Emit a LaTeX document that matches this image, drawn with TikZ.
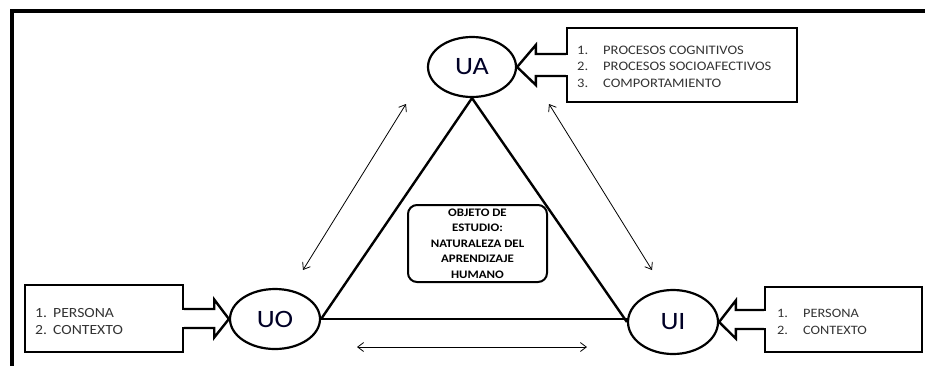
\documentclass[tikz,border=0pt]{standalone}
\usepackage{fontspec}
\setmainfont{Carlito}[FakeStretch=1.12]
\usetikzlibrary{arrows.meta,calc,shapes.geometric}
\tikzset{
  ell/.style={draw, ellipse, line width=2.2pt, inner sep=0pt, font=\fontsize{25}{30}\selectfont, text=black!85!blue},
  infobox/.style={draw, line width=2.4pt, inner sep=0pt},
  blk/.style={line width=2.4pt, line join=miter},
  rel/.style={line width=0.8pt, {Straight Barb[length=6pt,width=9pt]}-{Straight Barb[length=6pt,width=9pt]}},
  tri/.style={line width=2.4pt},
  itemtxt/.style={anchor=base west, inner sep=0pt, text=black!80},
}
\begin{document}
\begin{tikzpicture}[x=1pt,y=-1pt]
\useasboundingbox (0,0) rectangle (925,365);
% frame
\draw[line width=4pt] (12,367) -- (12,11) -- (927,11);

% ellipses
\node[ell, minimum width=88pt, minimum height=60pt] (UA) at (472,67) {UA};
\node[ell, minimum width=90pt, minimum height=60pt] (UO) at (275,319) {UO};
\node[ell, minimum width=90pt, minimum height=64pt] (UI) at (673,322) {UI};

% triangle
\draw[tri] (UA.south) -- (UO.east);
\draw[tri] (UA.south) -- (UI.west);
\draw[tri] (UO.east) -- (UO.east -| UI.west);

% info boxes
\node[infobox, minimum width=230pt, minimum height=74pt] (UAbox) at (682,65) {};
\node[infobox, minimum width=158pt, minimum height=67pt] (UObox) at (104,318.5) {};
\node[infobox, minimum width=157pt, minimum height=65pt] (UIbox) at (843.5,319.5) {};

\node[itemtxt, font=\fontsize{13}{16.7}\selectfont] (UAtxt) at (577,54) {\begin{tabular}[t]{@{}l@{}}\makebox[26pt][l]{1.}PROCESOS COGNITIVOS\\ \makebox[26pt][l]{2.}PROCESOS SOCIOAFECTIVOS\\ \makebox[26pt][l]{3.}COMPORTAMIENTO\end{tabular}};
\node[itemtxt, font=\fontsize{14}{17}\selectfont] (UOtxt) at (35,317) {\begin{tabular}[t]{@{}l@{}}\makebox[18pt][l]{1.}PERSONA\\ \makebox[18pt][l]{2.}CONTEXTO\end{tabular}};
\node[itemtxt, font=\fontsize{12.8}{17}\selectfont] (UItxt) at (777,317) {\begin{tabular}[t]{@{}l@{}}\makebox[26pt][l]{1.}PERSONA\\ \makebox[26pt][l]{2.}CONTEXTO\end{tabular}};

% block arrows (open into the boxes)
\fill[white] ($(UAbox.west)+(-2,-9.8)$) rectangle ($(UAbox.west)+(2,9.8)$);
\draw[blk] ($(UAbox.west)+(0,-11)$) -- ($(UAbox.west)+(-30,-11)$) -- ($(UAbox.west)+(-30,-20)$) -- (UA.east) -- ($(UAbox.west)+(-30,20)$) -- ($(UAbox.west)+(-30,11)$) -- ($(UAbox.west)+(0,11)$);

\fill[white] ($(UObox.east)+(-2,-8.3)$) rectangle ($(UObox.east)+(2,8.3)$);
\draw[blk] ($(UObox.east)+(0,-9.5)$) -- ($(UObox.east)+(30,-9.5)$) -- ($(UObox.east)+(30,-19)$) -- (UO.west) -- ($(UObox.east)+(30,19)$) -- ($(UObox.east)+(30,9.5)$) -- ($(UObox.east)+(0,9.5)$);

\fill[white] ($(UIbox.west)+(-2,-8.3)$) rectangle ($(UIbox.west)+(2,8.3)$);
\draw[blk] ($(UIbox.west)+(0,-9.5)$) -- ($(UIbox.west)+(-28,-9.5)$) -- ($(UIbox.west)+(-28,-19)$) -- (UI.east) -- ($(UIbox.west)+(-28,19)$) -- ($(UIbox.west)+(-28,9.5)$) -- ($(UIbox.west)+(0,9.5)$);

% central box
\node[draw, line width=2pt, rounded corners=9pt, minimum width=139pt, minimum height=77pt, inner sep=0pt,
      align=center, font=\fontsize{11.5}{15.5}\selectfont\bfseries] (obj) at (477.5,243.5)
  {OBJETO DE\\ESTUDIO:\\NATURALEZA DEL\\APRENDIZAJE\\HUMANO};

% relation arrows
\coordinate (l1) at (406,104);
\coordinate (l2) at (303,270);
\coordinate (r1) at (549,104);
\coordinate (r2) at (652,270);
\coordinate (b1) at (357,347);
\coordinate (b2) at (587,347);
\draw[rel] (l1) -- (l2);
\draw[rel] (r1) -- (r2);
\draw[rel] (b1) -- (b2);
\end{tikzpicture}
\end{document}
